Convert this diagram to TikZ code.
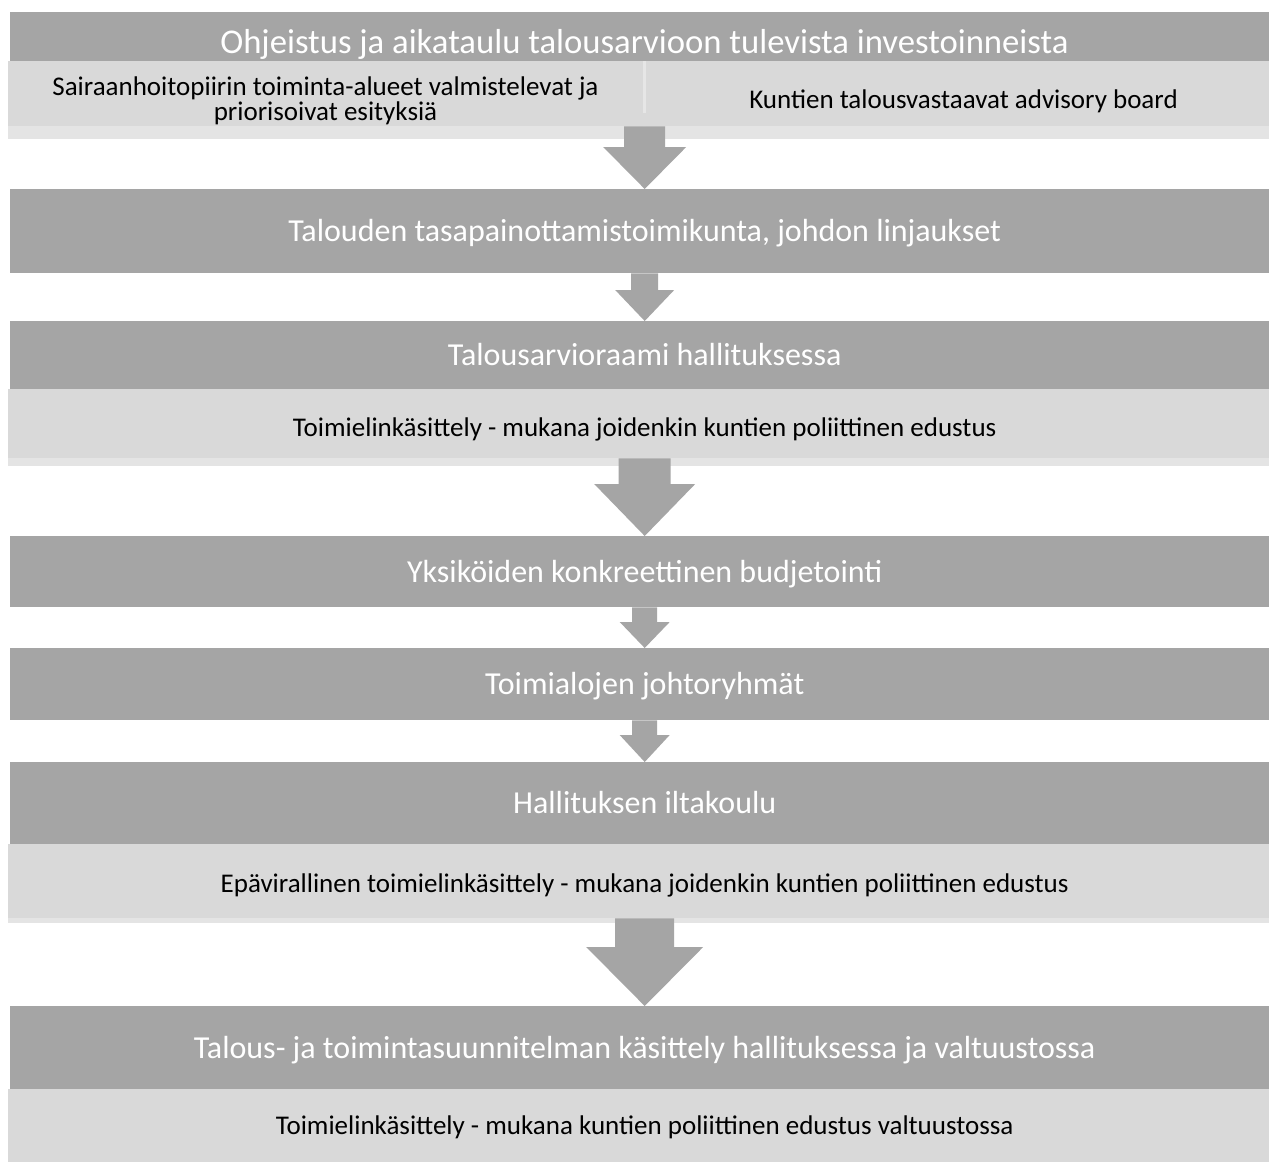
\documentclass[tikz,border=0pt]{standalone}
\usepackage{fontspec}
\setmainfont{Carlito}
\usetikzlibrary{calc}
\definecolor{darkg}{HTML}{A5A5A5}
\definecolor{lightg}{HTML}{D9D9D9}
\definecolor{bandg}{HTML}{E4E4E4}
\definecolor{gapg}{HTML}{E6E6E6}
\newcommand\blockarr[6]{% #1 start coord, #2 end node, #3 shaft half, #4 head half, #5 head length, #6 band height over start
  \fill[darkg] ($(#1)+(-#3,0)$) -- ($(#1)+(#3,0)$) -- ($(#2.north)+(#3,-#5)$) -- ($(#2.north)+(#4,-#5)$)
     -- (#2.north) -- ($(#2.north)+(-#4,-#5)$) -- ($(#2.north)+(-#3,-#5)$) -- cycle;
  \fill[lightg] ($(#1)+(-#3,0)$) rectangle ($(#1)+(#3,-#6)$);
}
\begin{document}
\begin{tikzpicture}[x=1pt,y=-1pt,
  darkbox/.style={fill=darkg, inner sep=0pt, anchor=north west, minimum width=1269, text=white,
    font=\fontsize{32}{36}\selectfont, text height=20.6pt, text depth=0pt},
  lightbox/.style={fill=lightg, inner sep=0pt, anchor=north west, minimum width=1273, text=black,
    font=\fontsize{27}{30}\selectfont, text height=17.4pt, text depth=0pt},
  halfbox/.style={fill=lightg, inner sep=0pt, anchor=north west, minimum width=635, minimum height=78},
  halftext/.style={text=black, inner sep=0pt, anchor=base, font=\fontsize{27}{30}\selectfont},
  titletext/.style={text=white, font=\fontsize{34.7}{38}\selectfont, inner sep=0pt, anchor=base}
]
\path[use as bounding box] (0,0) rectangle (1269,1162);
\clip (0,0) rectangle (1269,1162);
\fill[white] (0,0) rectangle (1269,1162);

% step 1
\node[darkbox, minimum height=49] (b1) at (10,12) {};
\node[titletext] (t1) at (644.5,53) {Ohjeistus ja aikataulu talousarvioon tulevista investoinneista};
\fill[gapg] (641,61) rectangle (648,139);
\node[halfbox] (l1a) at (8,61) {};
\node[halfbox] (l1b) at (646,61) {};
\fill[bandg] ($(l1a.south west)+(0,-13)$) rectangle (l1a.south east);
\fill[bandg] ($(l1b.south west)+(0,-13)$) rectangle (l1b.south east);
\node[halftext] (t1a) at (325.5,95) {Sairaanhoitopiirin toiminta-alueet valmistelevat ja};
\node[halftext] (t1a2) at (325.5,120) {priorisoivat esityksiä};
\node[halftext] (t1b) at (963.5,108.5) {Kuntien talousvastaavat advisory board};
\coordinate (s1) at ($(l1a.south east)!0.5!(l1b.south west)+(0,-13)$);

% step 2
\node[darkbox, minimum height=84] (b2) at (10,189) {Talouden tasapainottamistoimikunta, johdon linjaukset};
% step 3
\node[darkbox, minimum height=68] (b3) at (10,321) {Talousarvioraami hallituksessa};
\node[lightbox, minimum height=77] (l3) at (8,389) {Toimielinkäsittely - mukana joidenkin kuntien poliittinen edustus};
\fill[bandg] ($(l3.south west)+(0,-8)$) rectangle (l3.south east);
\coordinate (s3) at ($(l3.south)+(0,-8)$);
% step 4
\node[darkbox, minimum height=71] (b4) at (10,536) {Yksiköiden konkreettinen budjetointi};
% step 5
\node[darkbox, minimum height=72] (b5) at (10,648) {Toimialojen johtoryhmät};
% step 6
\node[darkbox, minimum height=82] (b6) at (10,762) {Hallituksen iltakoulu};
\node[lightbox, minimum height=79] (l6) at (8,844) {Epävirallinen toimielinkäsittely - mukana joidenkin kuntien poliittinen edustus};
\fill[bandg] ($(l6.south west)+(0,-5)$) rectangle (l6.south east);
\coordinate (s6) at ($(l6.south)+(0,-5)$);
% step 7
\node[darkbox, minimum height=83] (b7) at (10,1006) {Talous- ja toimintasuunnitelman käsittely hallituksessa ja valtuustossa};
\node[lightbox, minimum height=73] (l7) at (8,1089) {Toimielinkäsittely - mukana kuntien poliittinen edustus valtuustossa};

% arrows
\blockarr{s1}{b2}{20.5}{41.5}{42}{13}
\blockarr{b2.south}{b3}{13.5}{29.5}{31}{0}
\blockarr{s3}{b4}{26}{50.5}{52}{8}
\blockarr{b4.south}{b5}{12.5}{25}{26}{0}
\blockarr{b5.south}{b6}{12.5}{25}{27}{0}
\blockarr{s6}{b7}{29.5}{58.5}{59}{5}
\end{tikzpicture}
\end{document}
